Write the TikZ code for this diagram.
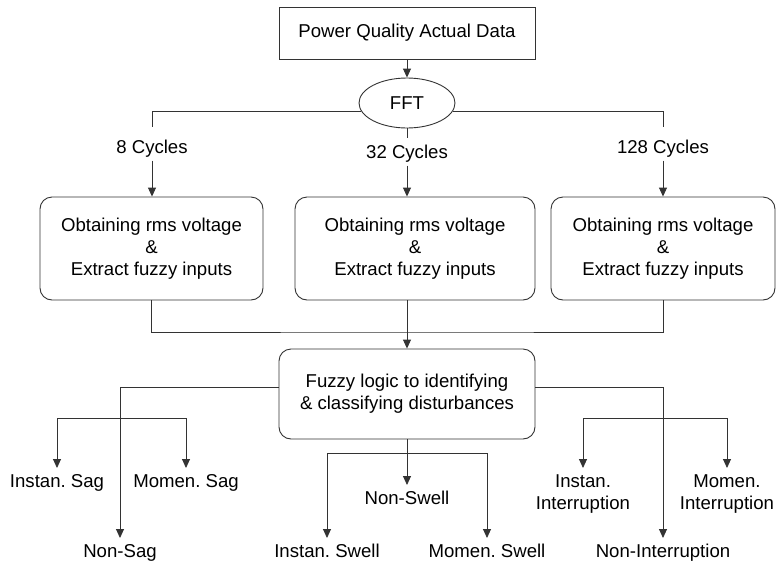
\documentclass[tikz,border=0pt]{standalone}
\usepackage{fontspec}
\setmainfont{Liberation Sans}
\usetikzlibrary{arrows.meta,shapes.geometric}
\frenchspacing
\begin{document}
\begin{tikzpicture}[x=1pt,y=-1pt,
  font=\fontsize{18.6}{22}\selectfont,
  ln/.style={draw=black!80, line width=0.9pt},
  arr/.style={ln, -{Triangle[length=9pt,width=8pt]}},
  sqbox/.style={draw=black!80, line width=0.9pt, rectangle, minimum width=256pt, minimum height=52pt, inner sep=0pt},
  rbox/.style={draw=black!80, line width=0.9pt, rectangle, rounded corners=12pt, align=center, inner sep=0pt},
  lbl/.style={text height=13pt, text depth=4pt, inner sep=3pt},
  outl/.style={inner sep=6pt, anchor=north, text height=13pt, text depth=4pt},
  outm/.style={inner sep=6pt, anchor=north, align=center},
]
\useasboundingbox (0,0) rectangle (777,563);

% top part
\node[sqbox] (pq) at (407,33) {Power Quality Actual Data};
\node[ellipse, draw=black!80, line width=0.9pt, minimum width=96pt, minimum height=50pt, inner sep=0pt] (fft) at (407,103) {FFT};
\node[lbl] (c8) at (152,149) {8 Cycles};
\node[lbl] (c32) at (407,154) {32 Cycles};
\node[lbl] (c128) at (663,149) {128 Cycles};

\node[rbox, minimum width=223pt, minimum height=103pt] (b1) at (151.5,248.5) {Obtaining rms voltage\\\&\\Extract fuzzy inputs};
\node[rbox, minimum width=240pt, minimum height=103pt] (b2) at (415,248.5) {Obtaining rms voltage\\\&\\Extract fuzzy inputs};
\node[rbox, minimum width=224pt, minimum height=103pt] (b3) at (663,248.5) {Obtaining rms voltage\\\&\\Extract fuzzy inputs};

\node[rbox, minimum width=256pt, minimum height=90pt] (fz) at (407,394) {Fuzzy logic to identifying\\\& classifying disturbances};

\draw[arr] (pq.south) -- (fft.north);
\draw[ln] (fft.190) -| ([yshift=10pt]c8.north);
\draw[ln] (fft.350) -| ([yshift=10pt]c128.north);
\draw[ln] (fft.south) -- ([yshift=4pt]c32.north);
\draw[arr] (c8.south) -- (c8.south |- b1.north);
\draw[arr] (c32.south) -- (c32.south |- b2.north);
\draw[arr] (c128.south) -- (c128.south |- b3.north);

\coordinate (j) at (407,332);
\draw[ln] (b1.south) |- (j) -| (b3.south);
\draw[arr] (fz.north |- b2.south) -- (fz.north);

% outputs
\node[outl] (isag) at (57,468) {Instan. Sag};
\node[outl] (msag) at (186,468) {Momen. Sag};
\node[outl] (nsag) at (120,538) {Non-Sag};
\node[outl] (iswell) at (327,538) {Instan. Swell};
\node[outl] (nswell) at (407,485) {Non-Swell};
\node[outl] (mswell) at (487,538) {Momen. Swell};
\node[outm] (iint) at (583,468) {Instan.\\Interruption};
\node[outm] (mint) at (727,468) {Momen.\\Interruption};
\node[outl] (nint) at (663,538) {Non-Interruption};

\draw[arr] ([yshift=7pt]fz.west) -| (nsag.north);
\coordinate (sagbar) at (120,418);
\draw[arr] (sagbar) -| (isag.north);
\draw[arr] (sagbar) -| (msag.north);

\draw[arr] (fz.south) -- (nswell.north);
\coordinate (swbar) at (407,453);
\draw[arr] (swbar) -| (iswell.north);
\draw[arr] (swbar) -| (mswell.north);

\draw[arr] ([yshift=7pt]fz.east) -| (nint.north);
\coordinate (intbar) at (663,418);
\draw[arr] (intbar) -| (iint.north);
\draw[arr] (intbar) -| (mint.north);
\end{tikzpicture}
\end{document}
